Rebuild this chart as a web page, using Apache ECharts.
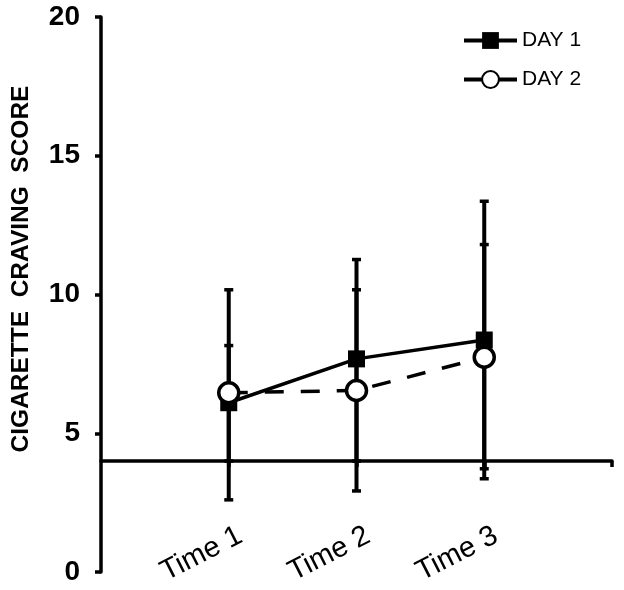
<!DOCTYPE html>
<html>
<head>
<meta charset="utf-8">
<script src="https://cdn.jsdelivr.net/npm/echarts@6/dist/echarts.min.js"></script>
<style>html,body{margin:0;padding:0;background:#fff}#c{width:624px;height:590px}</style>
</head>
<body>
<div id="c"></div>
<script>
// ---- data ----
const categories = ['Time 1', 'Time 2', 'Time 3'];
const categoryPositions = [1, 2, 3];
const day1Mean  = [6.10, 7.68, 8.36];
const day1Upper = [8.16, 11.26, 13.36];
const day1Lower = [4.00, 4.00, 3.36];
const day2Mean  = [6.46, 6.54, 7.74];
const day2Upper = [10.17, 10.17, 11.80];
const day2Lower = [2.60, 2.92, 3.72];
const yTicks = [0, 5, 10, 15, 20];
const xAxisCrossValue = 4;
const seriesNames = ['DAY 1', 'DAY 2'];
const yTitle = 'CIGARETTE  CRAVING  SCORE';

// ---- layout ----
const FONT = '"Liberation Sans", Arial, sans-serif';
const gridTop = 17, gridBottom = 18, gridLeft = 101, gridRight = 12;
const chartH = 590;
const gridH = chartH - gridTop - gridBottom;
const yMin = yTicks[0], yMax = yTicks[yTicks.length - 1];
const xAxisOffset = -(xAxisCrossValue - yMin) / (yMax - yMin) * gridH;

const chart = echarts.init(document.getElementById('c'), null, {renderer: 'canvas'});

function pts(means) { return means.map((v, i) => [categoryPositions[i], v]); }
function errs(lower, upper) { return lower.map((v, i) => [categoryPositions[i], v, upper[i]]); }

function renderErr(params, api) {
  const x = api.value(0);
  const lo = api.coord([x, api.value(1)]);
  const hi = api.coord([x, api.value(2)]);
  const cap = 4.5;
  const st = {stroke: '#000', lineWidth: 3.5};
  return {
    type: 'group',
    children: [
      {type: 'line', shape: {x1: lo[0], y1: lo[1], x2: hi[0], y2: hi[1]}, style: {stroke: '#000', lineWidth: 4}},
      {type: 'line', shape: {x1: lo[0] - cap, y1: lo[1], x2: lo[0] + cap, y2: lo[1]}, style: st},
      {type: 'line', shape: {x1: hi[0] - cap, y1: hi[1], x2: hi[0] + cap, y2: hi[1]}, style: st}
    ]
  };
}

const option = {
  animation: false,
  backgroundColor: '#fff',
  textStyle: {fontFamily: FONT},
  grid: {left: gridLeft, right: gridRight, top: gridTop, bottom: gridBottom, outerBoundsMode: 'none'},
  legend: {
    orient: 'vertical',
    left: 457,
    top: 25,
    itemWidth: 53,
    itemHeight: 21,
    itemGap: 18,
    textStyle: {fontFamily: FONT, fontSize: 21, color: '#000'},
    data: [
      {name: seriesNames[0], lineStyle: {width: 4}},
      {name: seriesNames[1], lineStyle: {type: 'solid', width: 4}}
    ]
  },
  xAxis: {
    type: 'value',
    min: 0,
    max: 4,
    interval: 1,
    offset: xAxisOffset,
    splitLine: {show: false},
    axisLine: {show: true, lineStyle: {color: '#000', width: 3.5}},
    axisTick: {show: true, customValues: [1, 2, 3, 4], length: 6, lineStyle: {color: '#000', width: 3.5}},
    axisLabel: {
      customValues: categoryPositions,
      formatter: v => categories[categoryPositions.indexOf(v)] || '',
      rotate: 27,
      margin: 50,
      verticalAlign: 'top',
      lineHeight: 52,
      fontFamily: FONT,
      fontSize: 29,
      color: '#000'
    }
  },
  yAxis: {
    type: 'value',
    min: yMin,
    max: yMax,
    interval: 5,
    splitLine: {show: false},
    axisLine: {show: true, lineStyle: {color: '#000', width: 3.5}},
    axisTick: {show: true, length: 6, lineStyle: {color: '#000', width: 3.5}},
    axisLabel: {margin: 21, fontFamily: FONT, fontSize: 28, fontWeight: 'bold', color: '#000'}
  },
  graphic: [{
    type: 'text',
    x: 21,
    y: 269,
    rotation: Math.PI / 2,
    scaleX: 1.02,
    style: {
      text: yTitle,
      font: 'bold 24px ' + FONT,
      fill: '#000',
      textAlign: 'center',
      textVerticalAlign: 'middle'
    }
  }],
  series: [
    {
      type: 'custom',
      name: 'err1',
      renderItem: renderErr,
      data: errs(day1Lower, day1Upper),
      z: 1,
      silent: true
    },
    {
      type: 'custom',
      name: 'err2',
      renderItem: renderErr,
      data: errs(day2Lower, day2Upper),
      z: 1,
      silent: true
    },
    {
      type: 'line',
      name: seriesNames[0],
      data: pts(day1Mean),
      symbol: 'rect',
      symbolSize: 17,
      itemStyle: {color: '#000'},
      lineStyle: {color: '#000', width: 3.5},
      z: 3
    },
    {
      type: 'line',
      name: seriesNames[1],
      data: pts(day2Mean),
      symbol: 'circle',
      symbolSize: 20,
      itemStyle: {color: '#fff', borderColor: '#000', borderWidth: 3.5},
      lineStyle: {color: '#000', width: 3.5, type: [19, 17]},
      z: 4
    }
  ]
};
chart.setOption(option);
</script>
</body>
</html>
